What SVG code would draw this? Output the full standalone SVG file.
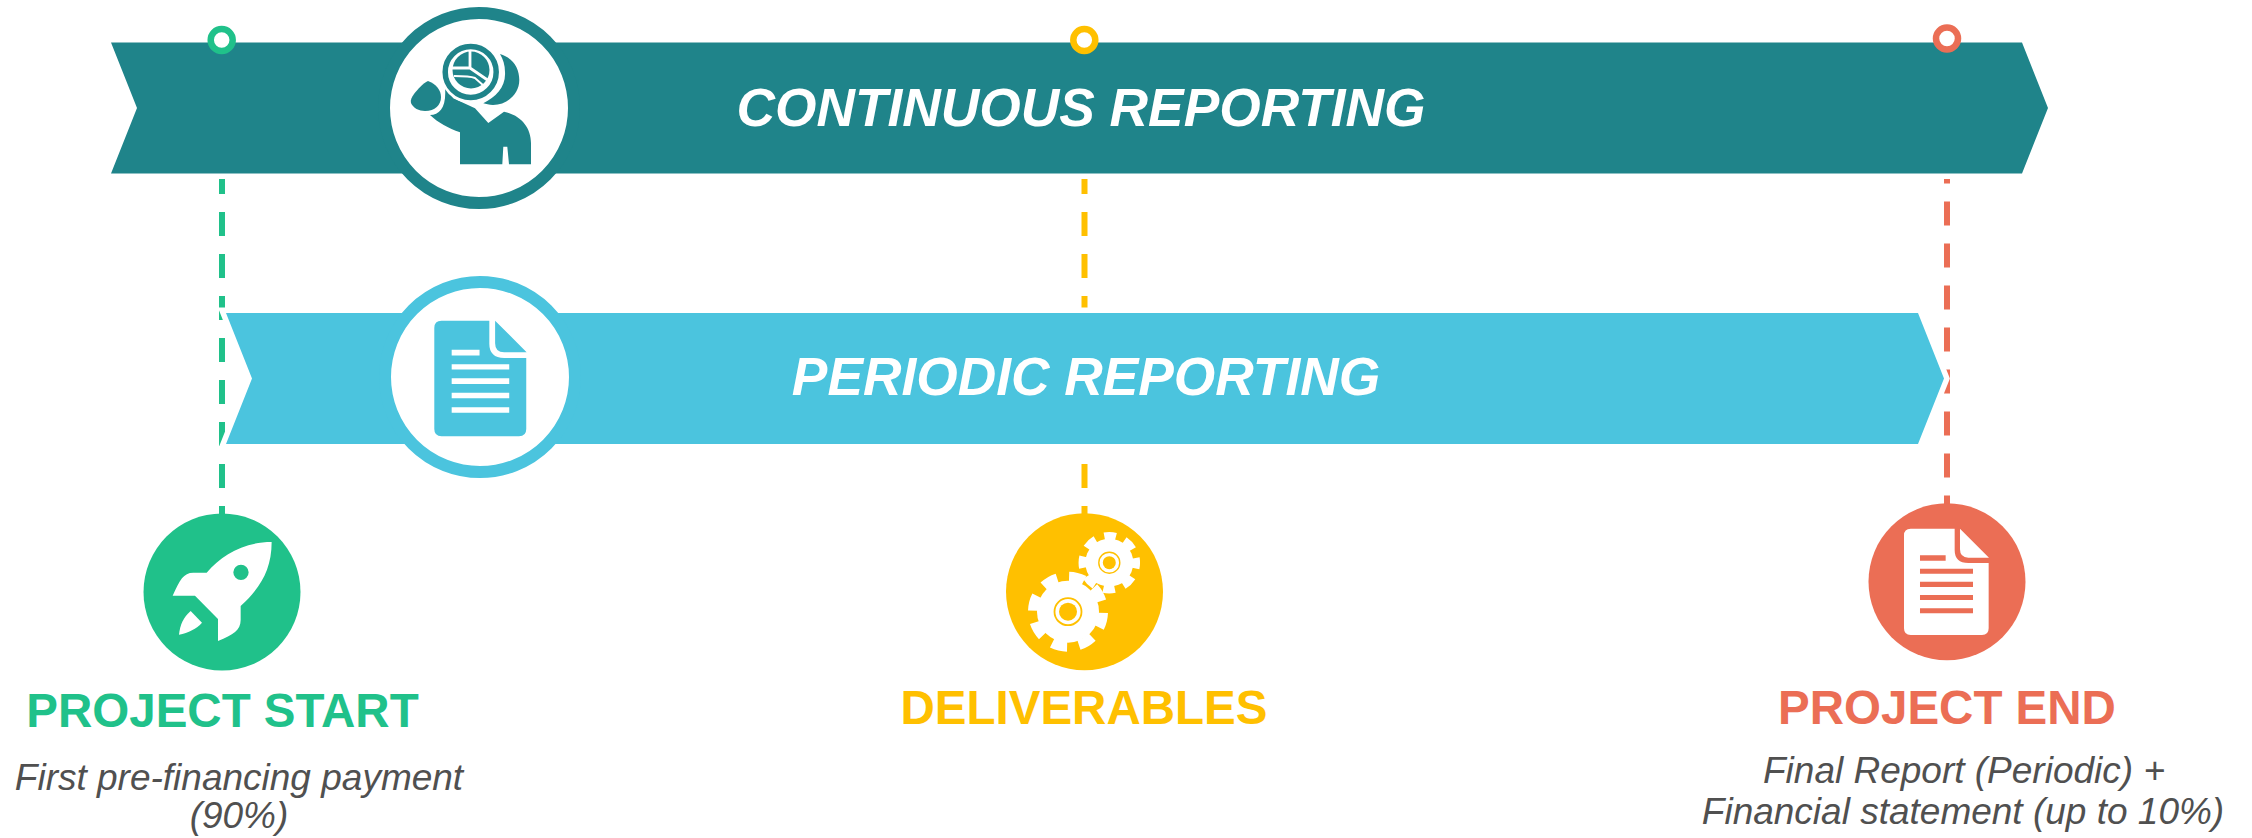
<svg xmlns="http://www.w3.org/2000/svg" width="2252" height="838" viewBox="0 0 2252 838">
<style>
text{font-family:"Liberation Sans",Arial,sans-serif;text-anchor:middle}
.dash{fill:none;stroke-width:6;stroke-dasharray:24 18}
.banner{stroke:#fff;stroke-width:11;stroke-linejoin:miter;paint-order:stroke}
.bt{font-size:53.300px;font-weight:bold;font-style:italic;fill:#fff}
.hd{font-size:47.500px;font-weight:bold}
.sub{font-size:37px;font-style:italic;fill:#505050}
.ring{fill:#fff;stroke-width:12}
.mk{fill:#fff;stroke-width:6.500}
.teal{fill:#1f848a}.cyan{fill:#4bc4de}
.w{fill:#fff}
</style>
<defs>
<path id="doc" d="M20 0H152V64Q152 103 193 103H254V299Q254 319 234 319H20Q0 319 0 299V20Q0 0 20 0ZM168 0L255 87H193Q168 87 168 62Z"/>
<path id="doclines" d="M48 80H125V96H48ZM48 120H207V135H48ZM48 159H207V175H48ZM48 199H207V214H48ZM48 239H207V254H48Z"/>
</defs>
<rect width="2252" height="838" fill="#fff"/>
<g id="connectors">
<path class="dash" stroke="#20c18a" d="M222 44V514"/>
<path class="dash" stroke="#ffc000" d="M1084.500 44V514"/>
<path class="dash" stroke="#eb6e55" d="M1947 33.500V504"/>
</g>
<g id="continuous-reporting">
<path class="banner teal" d="M111 42.500H2022L2048 108L2022 173.500H111L137 108Z"/>
<circle class="ring" stroke="#1f848a" cx="479" cy="108" r="95"/>
<g class="teal">
<path d="M428 81C436 84 441 90 441 97C441 105 435 111 425 111C419 111 413 108 411 103C410 100 412 97 414 94C418 89 423 83 428 81Z"/>
<path d="M430 115C440 115 446.700 106.700 445 87.300L453.300 98.300L475 108.300L488.300 123L504 111.700C520 115 531 126.700 531 143.300V164.300H509L507.300 146.700H503.300L502.300 164.300H460V132.300C448.300 128.300 438.300 122.700 430 115Z"/>
<path d="M500 54C513 58 519.300 68 519.300 80C519.300 94 507 105 493 105C489 105 486 104 483.300 103.300C496 97 506 87 505 72C505 65 503 59 500 54Z"/>
<circle cx="470.700" cy="72" r="31" fill="#fff"/>
<circle cx="470.700" cy="72" r="25.500" fill="none" stroke="#1f848a" stroke-width="5.500"/>
<circle cx="471" cy="70" r="18.500"/>
</g>
<path fill="none" stroke="#fff" stroke-width="2.800" d="M470 50V68H451M470 68L489 81"/>
<path fill="none" stroke="#fff" stroke-width="2" d="M454 76C462 76 470 76 475 78L484 86"/>
<text class="bt" x="1081" y="126">CONTINUOUS REPORTING</text>
</g>
<g id="periodic-reporting">
<path class="banner cyan" d="M226 313H1918L1944 378.500L1918 444H226L252 378.500Z"/>
<circle class="ring" stroke="#4bc4de" cx="480" cy="377" r="95"/>
<g transform="translate(434.300 320.700) scale(.362)"><use href="#doc" class="cyan"/><use href="#doclines" class="w"/></g>
<text class="bt" x="1086" y="395">PERIODIC REPORTING</text>
</g>
<g id="project-start">
<circle cx="222" cy="592" r="78.500" fill="#20c18a"/>
<g transform="translate(100 480) scale(.3333)" fill="#fff">
<path fill-rule="evenodd" d="M515 186C430 186 365 225 320 278H280C250 278 240 300 218 347H285L354 417V483C400 465 422 450 422 420V378C480 325 515 270 515 186ZM423 254A23 23 0 1 1 423 300A23 23 0 1 1 423 254Z"/>
<path d="M272 393L306 428C290 447 265 458 237 464C240 435 250 412 272 393Z"/>
</g>
<text class="hd" x="222.500" y="727" fill="#20c18a">PROJECT START</text>
<text class="sub" x="239" y="790">First pre-financing payment</text>
<text class="sub" x="239" y="828">(90%)</text>
</g>
<g id="deliverables">
<circle cx="1084.500" cy="591.700" r="78.500" fill="#ffc000"/>
<g fill="#fff">
<circle cx="1109.300" cy="562.700" r="24"/>
<circle cx="1109.300" cy="562.700" r="26" fill="none" stroke="#fff" stroke-width="9.500" stroke-dasharray="11.500 8.920" stroke-dashoffset="5.750"/>
<circle cx="1068" cy="611.700" r="31"/>
<circle cx="1068" cy="611.700" r="35" fill="none" stroke="#fff" stroke-width="10" stroke-dasharray="15.500 11.990" stroke-dashoffset="7.750" transform="rotate(14 1068 611.700)"/>
</g>
<g fill="none" stroke="#ffc000">
<circle cx="1068" cy="611.700" r="13.500" stroke-width="1.800"/>
<circle cx="1109.300" cy="562.700" r="10.500" stroke-width="1.400"/>
</g>
<circle cx="1068" cy="611.700" r="9" fill="#ffc000"/>
<circle cx="1109.300" cy="562.700" r="6.500" fill="#ffc000"/>
<text class="hd" x="1084" y="724" fill="#ffc000">DELIVERABLES</text>
</g>
<g id="project-end">
<circle cx="1947" cy="581.700" r="78.500" fill="#eb6e55"/>
<g transform="translate(1904 528.670) scale(.3333)"><use href="#doc" class="w"/><use href="#doclines" fill="#eb6e55"/></g>
<text class="hd" x="1947" y="724" fill="#eb6e55">PROJECT END</text>
<text class="sub" x="1964" y="783">Final Report (Periodic) +</text>
<text class="sub" x="1963" y="824">Financial statement (up to 10%)</text>
</g>
<g id="markers">
<circle class="mk" stroke="#20c18a" cx="221.700" cy="40" r="11"/>
<circle class="mk" stroke="#ffc000" cx="1084.300" cy="40" r="11"/>
<circle class="mk" stroke="#eb6e55" cx="1947" cy="38.500" r="11"/>
</g>
</svg>
